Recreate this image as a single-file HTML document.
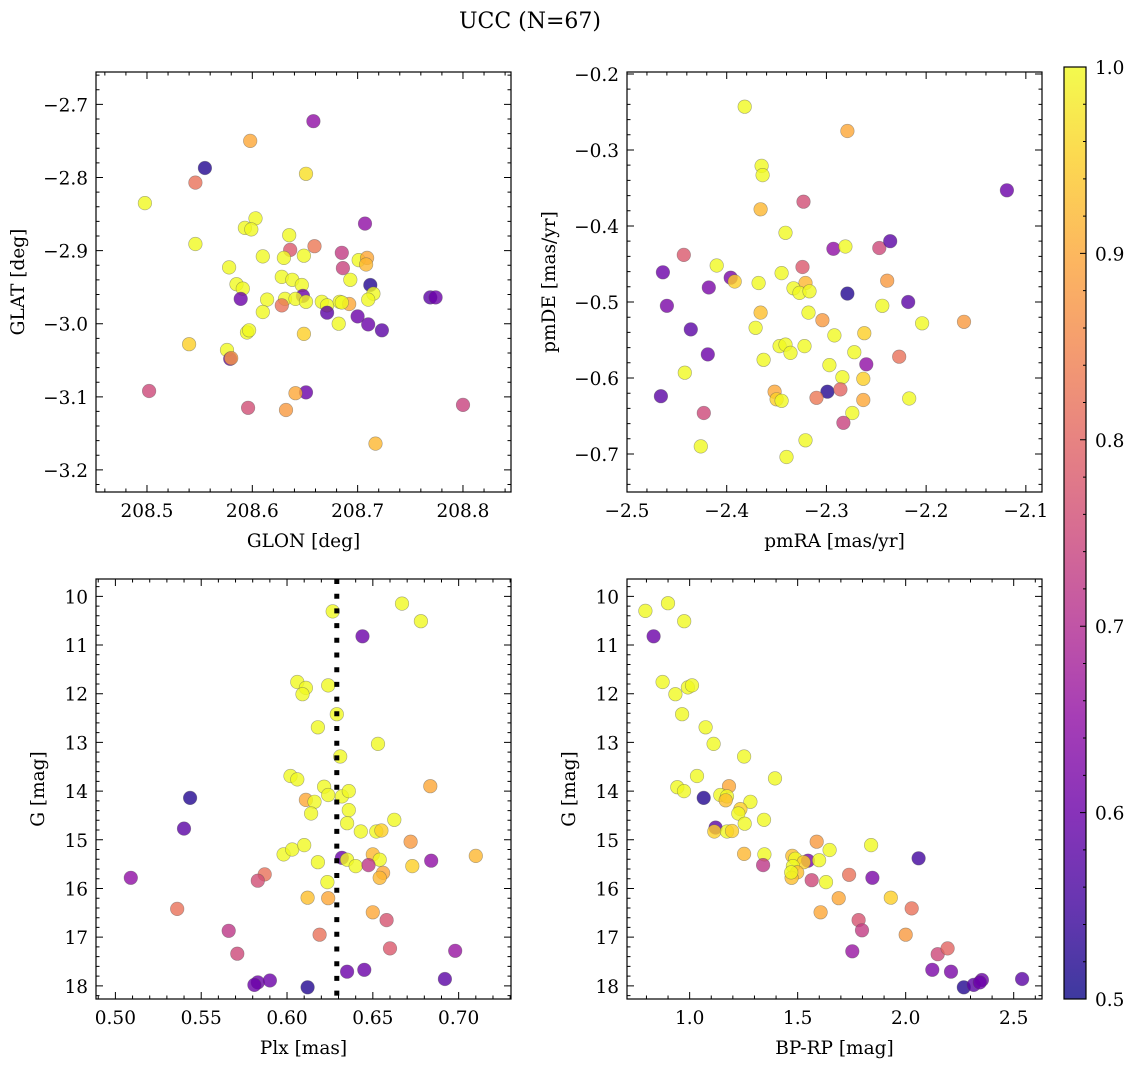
<!DOCTYPE html>
<html><head><meta charset="utf-8"><style>
body{margin:0;background:#fff;}
svg text{font-family:"DejaVu Serif","Liberation Serif",serif;fill:#000;}
</style></head><body>
<svg id="fig" width="1136" height="1067" viewBox="0 0 1136 1067" xmlns="http://www.w3.org/2000/svg">
<defs>
<linearGradient id="cbgrad" x1="0" y1="1" x2="0" y2="0">
<stop offset="0" stop-color="#0d0887"/><stop offset="0.1" stop-color="#41049d"/><stop offset="0.2" stop-color="#6a00a8"/><stop offset="0.3" stop-color="#8f0da4"/><stop offset="0.4" stop-color="#b12a90"/><stop offset="0.5" stop-color="#cc4778"/><stop offset="0.6" stop-color="#e16462"/><stop offset="0.7" stop-color="#f2844b"/><stop offset="0.8" stop-color="#fca636"/><stop offset="0.9" stop-color="#fcce25"/><stop offset="1" stop-color="#f0f921"/>
</linearGradient>
</defs>
<text x="530" y="28" font-size="22" text-anchor="middle">UCC (N=67)</text>
<rect x="1064" y="67" width="22" height="932" fill="url(#cbgrad)" opacity="0.8"/>
<rect x="1064" y="67" width="22" height="932" fill="none" stroke="#000" stroke-width="1.2"/>
</svg>
<script>
// Panel 1: GLON / GLAT
const glon=[208.658,208.598,208.555,208.546,208.651,208.498,208.707,208.603,208.593,208.599,208.546,208.635,208.636,208.659,208.685,208.610,208.630,208.649,208.701,208.709,208.708,208.686,208.578,208.693,208.628,208.638,208.647,208.585,208.591,208.712,208.715,208.710,208.589,208.614,208.631,208.648,208.641,208.651,208.628,208.666,208.671,208.683,208.692,208.685,208.769,208.774,208.671,208.610,208.700,208.710,208.723,208.682,208.595,208.597,208.649,208.540,208.576,208.579,208.580,208.502,208.651,208.641,208.596,208.632,208.800,208.717];
const glat=[-2.723,-2.750,-2.787,-2.807,-2.795,-2.835,-2.863,-2.856,-2.869,-2.871,-2.891,-2.879,-2.899,-2.894,-2.903,-2.908,-2.910,-2.907,-2.913,-2.910,-2.919,-2.924,-2.923,-2.940,-2.936,-2.940,-2.947,-2.946,-2.952,-2.947,-2.959,-2.967,-2.966,-2.967,-2.966,-2.962,-2.966,-2.970,-2.975,-2.970,-2.975,-2.970,-2.973,-2.971,-2.964,-2.964,-2.985,-2.984,-2.990,-3.001,-3.009,-3.000,-3.012,-3.009,-3.014,-3.028,-3.036,-3.048,-3.047,-3.092,-3.094,-3.095,-3.115,-3.118,-3.111,-3.164];
const prob1=[0.65,0.9,0.52,0.82,0.97,1,0.65,1,1,1,1,1,0.78,0.83,0.73,1,1,1,1,0.9,0.92,0.74,1,1,1,1,1,1,1,0.52,1,1,0.6,1,1,0.6,1,1,0.82,1,1,1,0.9,1,0.58,0.6,0.58,1,0.6,0.6,0.58,1,1,1,0.95,0.95,1,0.6,0.88,0.75,0.6,0.9,0.76,0.88,0.74,0.92];
// Panel 2: pmRA / pmDE
const pmra=[-2.382,-2.279,-2.365,-2.364,-2.119,-2.323,-2.366,-2.341,-2.293,-2.281,-2.247,-2.236,-2.443,-2.410,-2.464,-2.324,-2.345,-2.396,-2.392,-2.368,-2.418,-2.321,-2.333,-2.327,-2.317,-2.279,-2.239,-2.460,-2.218,-2.244,-2.366,-2.318,-2.304,-2.162,-2.204,-2.436,-2.371,-2.292,-2.262,-2.347,-2.341,-2.336,-2.322,-2.272,-2.419,-2.363,-2.227,-2.297,-2.260,-2.442,-2.284,-2.263,-2.466,-2.352,-2.350,-2.345,-2.299,-2.286,-2.310,-2.263,-2.217,-2.423,-2.274,-2.283,-2.426,-2.321,-2.340];
const pmde=[-0.243,-0.275,-0.321,-0.333,-0.353,-0.368,-0.378,-0.409,-0.430,-0.427,-0.429,-0.420,-0.438,-0.452,-0.461,-0.454,-0.462,-0.468,-0.473,-0.475,-0.481,-0.475,-0.482,-0.488,-0.486,-0.489,-0.472,-0.505,-0.500,-0.505,-0.514,-0.514,-0.524,-0.526,-0.528,-0.536,-0.534,-0.544,-0.541,-0.558,-0.556,-0.567,-0.558,-0.566,-0.569,-0.576,-0.572,-0.583,-0.582,-0.593,-0.599,-0.601,-0.624,-0.618,-0.628,-0.630,-0.618,-0.615,-0.626,-0.629,-0.627,-0.646,-0.646,-0.659,-0.690,-0.682,-0.704];
const prob2=[1,0.9,1,1,0.6,0.76,0.92,1,0.65,1,0.75,0.58,0.78,1,0.6,0.78,1,0.62,0.95,1,0.62,0.92,1,1,1,0.52,0.88,0.62,0.58,1,0.93,1,0.88,0.88,1,0.58,1,1,0.95,1,1,1,1,1,0.6,1,0.82,1,0.65,1,1,0.95,0.58,0.9,0.95,1,0.52,0.8,0.83,0.9,1,0.75,1,0.74,1,1,1];
// Panel 3: Plx / G
const plx=[0.6266,0.667,0.678,0.644,0.606,0.611,0.609,0.624,0.629,0.618,0.653,0.631,0.602,0.606,0.6835,0.5435,0.6216,0.624,0.632,0.636,0.611,0.616,0.636,0.614,0.635,0.6625,0.540,0.643,0.652,0.655,0.672,0.710,0.598,0.603,0.610,0.650,0.632,0.635,0.654,0.684,0.618,0.640,0.673,0.6475,0.509,0.656,0.654,0.587,0.583,0.6235,0.612,0.624,0.536,0.650,0.658,0.566,0.619,0.571,0.660,0.698,0.635,0.645,0.692,0.583,0.581,0.590,0.612];
const gmag3=[10.31,10.15,10.51,10.82,11.76,11.88,12.01,11.83,12.42,12.69,13.03,13.29,13.69,13.76,13.90,14.14,13.91,14.08,14.11,14.00,14.18,14.22,14.39,14.46,14.66,14.59,14.77,14.83,14.83,14.81,15.04,15.33,15.30,15.20,15.11,15.30,15.37,15.41,15.41,15.43,15.46,15.54,15.54,15.52,15.78,15.68,15.78,15.71,15.84,15.87,16.19,16.20,16.42,16.49,16.65,16.87,16.95,17.34,17.23,17.28,17.71,17.67,17.86,17.93,17.98,17.89,18.03];
const prob3=[1,1,1,0.6,1,1,1,1,1,1,1,1,1,1,0.9,0.52,1,1,1,1,0.9,1,1,1,1,1,0.58,1,1,0.95,0.88,0.92,1,1,1,0.92,0.6,1,1,0.65,1,1,0.95,0.72,0.65,0.9,0.92,0.82,0.76,1,0.93,0.9,0.82,0.9,0.77,0.72,0.82,0.75,0.78,0.66,0.6,0.6,0.58,0.6,0.6,0.6,0.52];
const plxRef=[0.629];
// Panel 4: BP-RP / G
const bprp=[0.795,0.900,0.975,0.833,0.875,0.934,0.992,1.011,0.965,1.074,1.111,1.252,1.395,1.034,0.943,0.974,1.182,1.065,1.142,1.173,1.167,1.281,1.235,1.225,1.255,1.344,1.120,1.114,1.173,1.196,1.588,1.840,1.252,1.346,1.475,1.489,1.548,1.648,1.599,1.528,2.060,1.340,1.478,1.498,1.472,1.738,1.846,1.565,1.631,1.690,1.931,1.606,2.028,1.782,1.798,2.000,2.148,2.194,1.753,2.123,2.210,2.539,2.269,2.315,2.353,2.343,1.470];
const gmag4=[10.30,10.14,10.51,10.82,11.76,12.01,11.87,11.83,12.42,12.69,13.03,13.29,13.74,13.69,13.92,14.00,13.90,14.14,14.08,14.11,14.19,14.22,14.37,14.46,14.67,14.59,14.75,14.83,14.83,14.82,15.04,15.11,15.29,15.30,15.33,15.39,15.43,15.21,15.42,15.46,15.38,15.52,15.54,15.67,15.78,15.72,15.78,15.83,15.87,16.20,16.19,16.49,16.41,16.65,16.86,16.95,17.35,17.23,17.29,17.67,17.71,17.86,18.03,17.98,17.88,17.93,15.67];
const prob4=[1,1,1,0.6,1,1,1,1,1,1,1,1,1,1,1,1,0.9,0.52,1,1,0.93,1,0.95,1,1,1,0.58,0.95,1,0.95,0.88,1,0.92,1,0.93,1,0.62,1,1,0.95,0.55,0.72,1,0.93,0.93,0.82,0.62,0.75,1,0.9,0.95,0.9,0.82,0.77,0.73,0.88,0.75,0.8,0.66,0.62,0.62,0.58,0.52,0.58,0.6,0.6,1];
const cbTicks=[0.5,0.6,0.7,0.8,0.9,1.0];

const NS='http://www.w3.org/2000/svg';
const svg=document.getElementById('fig');
const FS=18.5;
const P=[[13,8,135],[65,4,157],[106,0,168],[143,13,164],[177,42,144],[204,71,120],[225,100,98],[242,132,75],[252,166,54],[252,206,37],[240,249,33]];
function plasma(v){let t=Math.max(0,Math.min(1,(v-0.5)/0.5))*10;let i=Math.min(9,Math.floor(t));let f=t-i;const a=P[i],b=P[i+1];return 'rgb('+a.map((c,k)=>Math.round(c+(b[k]-c)*f)).join(',')+')';}
function mk(tag,attrs,parent){const e=document.createElementNS(NS,tag);for(const k in attrs)e.setAttribute(k,attrs[k]);(parent||svg).appendChild(e);return e;}
function fmt(v,d){return (v<0?'\u2212':'')+Math.abs(v).toFixed(d);}

function panel(cfg){
  const g=mk('g',{});
  
  
  const [x0,y0,x1,y1]=cfg.box;
  const sx=v=>x0+(v-cfg.xlim[0])/(cfg.xlim[1]-cfg.xlim[0])*(x1-x0);
  const sy=v=>y0+(v-cfg.ylim[0])/(cfg.ylim[1]-cfg.ylim[0])*(y1-y0);
  cfg.sx=sx;cfg.sy=sy;cfg.g=g;
  for(let i=0;i<cfg.xs.length;i++){
    const c=mk('circle',{cx:sx(cfg.xs[i]).toFixed(1),cy:sy(cfg.ys[i]).toFixed(1),r:6.8,fill:plasma(cfg.cs[i]),'fill-opacity':0.8,stroke:'#555','stroke-opacity':0.5,'stroke-width':0.6},g);
    
    
  }
  if(cfg.extra)cfg.extra(cfg);
  const fr=mk('rect',{x:x0,y:y0,width:x1-x0,height:y1-y0,fill:'none',stroke:'#000','stroke-width':1.2},g);
  
  
  const lo=Math.min(...cfg.xlim),hi=Math.max(...cfg.xlim);
  let d='';
  for(let k=Math.ceil(lo/cfg.xmin-1e-6);k*cfg.xmin<=hi+1e-9;k++){const v=k*cfg.xmin;const px=sx(v);const maj=Math.abs(v/cfg.xmaj-Math.round(v/cfg.xmaj))<1e-6;const L=maj?7:3.5;d+=`M${px},${y1}v${-L}M${px},${y0}v${L}`;
    if(maj){const t=mk('text',{x:px,y:y1+25,'font-size':FS,'text-anchor':'middle'},g);t.textContent=fmt(v,cfg.xd);}}
  const ylo=Math.min(...cfg.ylim),yhi=Math.max(...cfg.ylim);
  for(let k=Math.ceil(ylo/cfg.ymin-1e-6);k*cfg.ymin<=yhi+1e-9;k++){const v=k*cfg.ymin;const py=sy(v);const maj=Math.abs(v/cfg.ymaj-Math.round(v/cfg.ymaj))<1e-6;const L=maj?7:3.5;d+=`M${x0},${py}h${L}M${x1},${py}h${-L}`;
    if(maj){const t=mk('text',{x:x0-8,y:py+7,'font-size':FS,'text-anchor':'end'},g);t.textContent=fmt(v,cfg.yd);}}
  const tk=mk('path',{d:d,stroke:'#000','stroke-width':1,fill:'none'},g);
  
  
  const xl=mk('text',{x:(x0+x1)/2,y:y1+55,'font-size':FS,'text-anchor':'middle'},g);xl.textContent=cfg.xlabel;
  
  
  const yl=mk('text',{x:cfg.ylx,y:(y0+y1)/2,'font-size':FS,'text-anchor':'middle',transform:`rotate(-90 ${cfg.ylx} ${(y0+y1)/2})`},g);yl.textContent=cfg.ylabel;
  
  
}

panel({name:'panel-glon-glat',box:[96,72,511,492],xlim:[208.4516,208.8456],ylim:[-2.6557,-3.2302],xs:glon,ys:glat,cs:prob1,xmaj:0.1,xmin:0.02,ymaj:0.1,ymin:0.02,xd:1,yd:1,xlabel:'GLON [deg]',ylabel:'GLAT [deg]',ylx:24});
panel({name:'panel-pmra-pmde',box:[627,72,1042,492],xlim:[-2.5,-2.0838],ylim:[-0.1974,-0.7500],xs:pmra,ys:pmde,cs:prob2,xmaj:0.1,xmin:0.02,ymaj:0.1,ymin:0.02,xd:1,yd:1,xlabel:'pmRA [mas/yr]',ylabel:'pmDE [mas/yr]',ylx:555});
panel({name:'panel-plx-g',box:[96,579,511,999],xlim:[0.4887,0.7305],ylim:[9.644,18.27],xs:plx,ys:gmag3,cs:prob3,xmaj:0.05,xmin:0.01,ymaj:1,ymin:0.2,xd:2,yd:0,xlabel:'Plx [mas]',ylabel:'G [mag]',ylx:44,
  extra:(c)=>{const px=c.sx(plxRef[0]);const l=mk('line',{x1:px,x2:px,y1:579,y2:999,stroke:'#000','stroke-width':5,'stroke-dasharray':'5,9.7'},c.g);}});
panel({name:'panel-bprp-g',box:[627,579,1042,999],xlim:[0.710,2.631],ylim:[9.644,18.27],xs:bprp,ys:gmag4,cs:prob4,xmaj:0.5,xmin:0.1,ymaj:1,ymin:0.2,xd:1,yd:0,xlabel:'BP-RP [mag]',ylabel:'G [mag]',ylx:575});

const cby=v=>999-(v-0.5)/0.5*932;
let cd='';
for(let k=25;k<=50;k++){const v=k/50;const y=cby(v);const maj=k%5===0;cd+=`M1086,${y}h${maj?-6:-3}`;}
const cbt=mk('path',{d:cd,stroke:'#000','stroke-width':1});


cbTicks.forEach(v=>{const t=mk('text',{x:1095,y:cby(v)+7,'font-size':FS});t.textContent=v.toFixed(1);
  
  });
</script>
</body></html>
